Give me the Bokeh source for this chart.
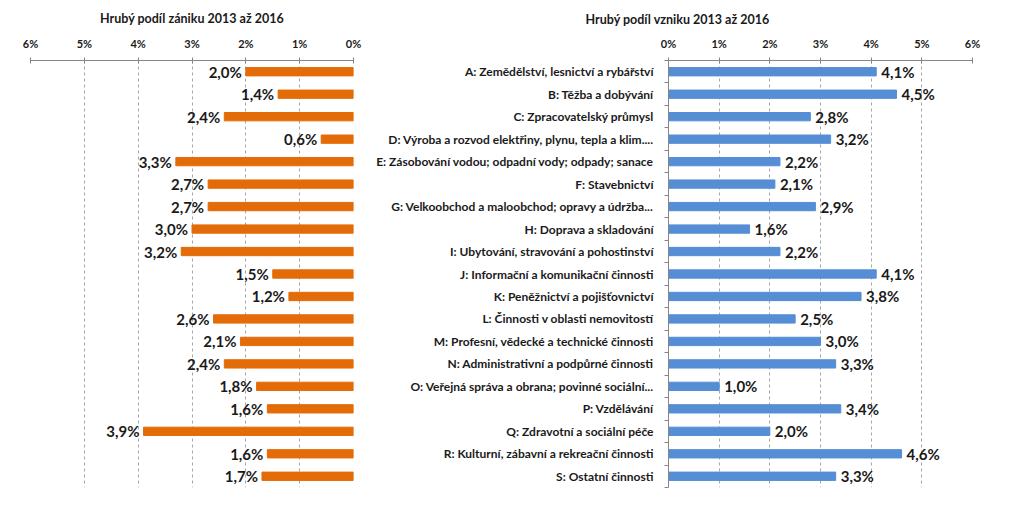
from bokeh.plotting import figure
from bokeh.layouts import row
from bokeh.models import Range1d, FixedTicker, ColumnDataSource
from bokeh.core.properties import value
from bokeh.embed import file_html
from bokeh.resources import INLINE

categories = [
    "A: Zemědělství, lesnictví a rybářství",
    "B: Těžba a dobývání",
    "C: Zpracovatelský průmysl",
    "D: Výroba a rozvod elektřiny, plynu, tepla a klim....",
    "E: Zásobování vodou; odpadní vody; odpady; sanace",
    "F: Stavebnictví",
    "G: Velkoobchod a maloobchod; opravy a údržba...",
    "H: Doprava a skladování",
    "I: Ubytování, stravování a pohostinství",
    "J: Informační a komunikační činnosti",
    "K: Peněžnictví a pojišťovnictví",
    "L: Činnosti v oblasti nemovitostí",
    "M: Profesní, vědecké a technické činnosti",
    "N: Administrativní a podpůrné činnosti",
    "O: Veřejná správa a obrana; povinné sociální...",
    "P: Vzdělávání",
    "Q: Zdravotní a sociální péče",
    "R: Kulturní, zábavní a rekreační činnosti",
    "S: Ostatní činnosti",
]
zanik = [2.0, 1.4, 2.4, 0.6, 3.3, 2.7, 2.7, 3.0, 3.2, 1.5, 1.2, 2.6, 2.1, 2.4, 1.8, 1.6, 3.9, 1.6, 1.7]
vznik = [4.1, 4.5, 2.8, 3.2, 2.2, 2.1, 2.9, 1.6, 2.2, 4.1, 3.8, 2.5, 3.0, 3.3, 1.0, 3.4, 2.0, 4.6, 3.3]
x_ticks = [0, 1, 2, 3, 4, 5, 6]
x_tick_labels = ["0%", "1%", "2%", "3%", "4%", "5%", "6%"]
title_left = "Hrubý podíl zániku 2013 až 2016"
title_right = "Hrubý podíl vzniku 2013 až 2016"

ORANGE = "#E36C09"
BLUE = "#558ED5"
AXIS = "#868686"
GRID = "#A6A6A6"
TXT = "#1a1a1a"
FONT = "Lato"


def fmt(v):
    return f"{v:.1f}".replace(".", ",") + "%"


idx = list(range(len(categories)))
n = len(categories)
boundaries = [i - 0.5 for i in idx] + [n - 0.5]
tick_over = {t: l for t, l in zip(x_ticks, x_tick_labels)}


def style(p):
    p.outline_line_color = None
    p.background_fill_color = "white"
    p.border_fill_color = "white"
    p.title.text_font = FONT
    p.title.text_font_style = "bold"
    p.title.text_font_size = "12.5px"
    p.title.text_color = TXT
    ax = p.xaxis[0]
    ax.ticker = FixedTicker(ticks=x_ticks)
    ax.major_label_overrides = tick_over
    ax.axis_line_color = AXIS
    ax.major_tick_line_color = AXIS
    ax.major_tick_in = 3
    ax.major_tick_out = 3
    ax.minor_tick_line_color = None
    ax.major_label_standoff = 8
    ax.major_label_text_font = FONT
    ax.major_label_text_font_style = "bold"
    ax.major_label_text_font_size = "11px"
    ax.major_label_text_color = TXT
    p.xgrid.ticker = FixedTicker(ticks=x_ticks)
    p.xgrid.grid_line_color = GRID
    p.xgrid.grid_line_dash = "3 3"
    p.ygrid.visible = False


# Left: zánik
src1 = ColumnDataSource(dict(y=idx, v=zanik, lab=[fmt(v) for v in zanik]))
p1 = figure(width=372, height=500, x_range=Range1d(6, 0), y_range=Range1d(n - 0.5, -0.5),
            x_axis_location="above", y_axis_location=None, output_backend="svg",
            toolbar_location=None, min_border_left=30, min_border_right=19,
            min_border_top=55, min_border_bottom=13, title=title_left)
style(p1)
p1.title.align = "center"
p1.title.standoff = 16
p1.hbar(y="y", left=0, right="v", height=0.37, color=ORANGE, source=src1)
p1.text(x="v", y="y", text="lab", x_offset=-4, text_align="right", text_baseline="middle",
        text_font=value(FONT), text_font_style="bold", text_font_size="15px",
        text_color=TXT, source=src1)

# Right: vznik
src2 = ColumnDataSource(dict(y=idx, v=vznik, lab=[fmt(v) for v in vznik]))
p2 = figure(width=644, height=500, x_range=Range1d(0, 6), y_range=Range1d(n - 0.5, -0.5),
            x_axis_location="above", y_axis_location="left", output_backend="svg",
            toolbar_location=None, min_border_left=296, min_border_right=44,
            min_border_top=51, min_border_bottom=13, title=title_right)
style(p2)
p2.title.align = "left"
p2.title.offset = -83
p2.title.standoff = 13
ya = p2.yaxis[0]
ya.ticker = FixedTicker(ticks=idx, minor_ticks=boundaries)
ya.major_label_overrides = {i: c for i, c in zip(idx, categories)}
ya.axis_line_color = AXIS
ya.major_tick_line_color = None
ya.major_tick_out = 0
ya.major_tick_in = 0
ya.minor_tick_line_color = AXIS
ya.minor_tick_out = 4
ya.minor_tick_in = 0
ya.major_label_standoff = 11
ya.major_label_text_font = FONT
ya.major_label_text_font_style = "bold"
ya.major_label_text_font_size = "12px"
ya.major_label_text_color = TXT
p2.hbar(y="y", left=0, right="v", height=0.37, color=BLUE, source=src2)
p2.text(x="v", y="y", text="lab", x_offset=5, text_align="left", text_baseline="middle",
        text_font=value(FONT), text_font_style="bold", text_font_size="15px",
        text_color=TXT, source=src2)

layout = row(p1, p2)
open("out.html", "w").write(file_html(layout, INLINE))
